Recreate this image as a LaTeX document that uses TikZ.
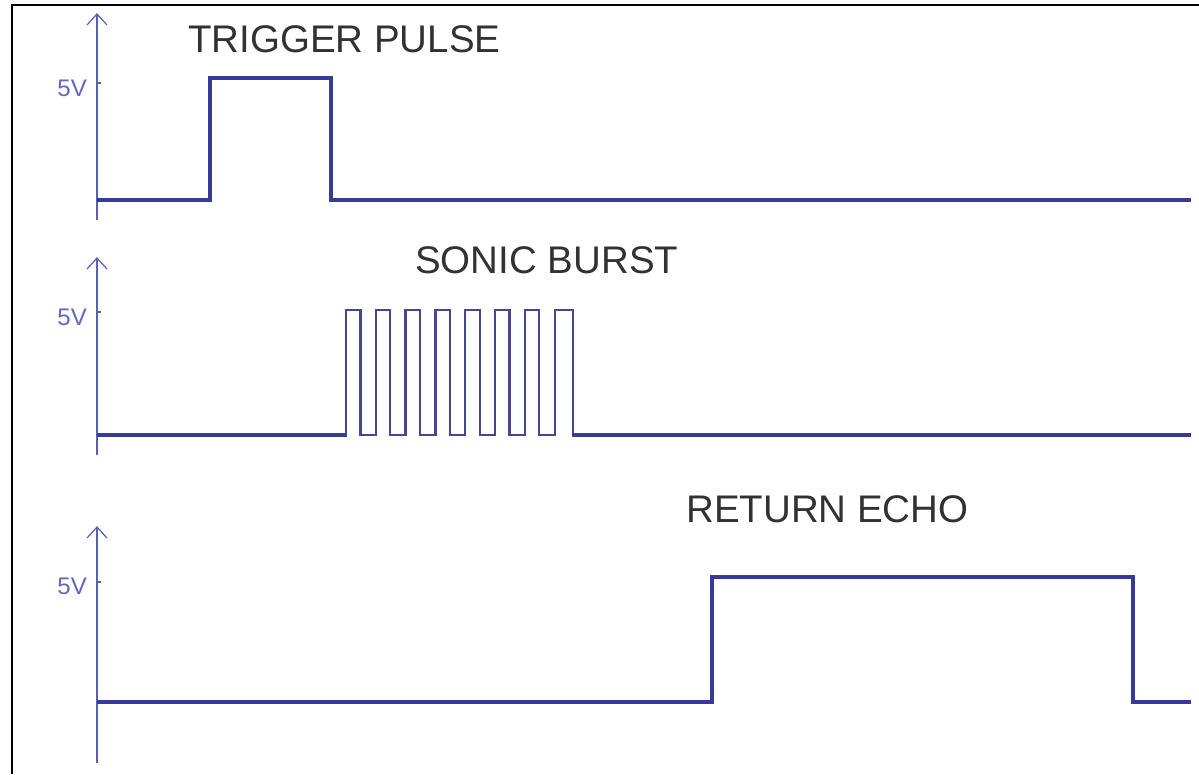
\documentclass[tikz,border=0pt]{standalone}
\usepackage{fontspec}
\setmainfont{Liberation Sans}
\begin{document}
\begin{tikzpicture}[x=1pt,y=-1pt,
  wave/.style={draw=waveblue,line width=3.2pt,line join=miter},
  burst/.style={draw=burstblue,line width=2.3pt,line join=miter},
  axisline/.style={draw=axisblue,line width=2pt},
  arrowarm/.style={draw=axisblue,line width=1.2pt},
  tickmark/.style={draw=axisblue,line width=2.5pt},
  title/.style={text=titlegray,font=\fontsize{38.5}{40}\selectfont,inner sep=0pt,anchor=base west},
  volt/.style={text=voltblue,font=\fontsize{24}{25}\selectfont,inner sep=0pt,anchor=east},
  frameline/.style={draw=black,line width=2pt}]
\definecolor{waveblue}{RGB}{54,58,152}
\definecolor{burstblue}{RGB}{70,72,140}
\definecolor{axisblue}{RGB}{92,96,180}
\definecolor{voltblue}{RGB}{100,104,184}
\definecolor{titlegray}{RGB}{50,50,50}
\useasboundingbox (0,0) rectangle (1199,774);
\fill[white] (0,0) rectangle (1199,774);
% frame
\coordinate (fa) at (12,774);
\coordinate (fb) at (12,5);
\coordinate (fc) at (1199,5);
\draw[frameline] (fa) -- (fb) -- (fc);

% ---------- panel 1: trigger pulse
\coordinate (a1b) at (97,220);
\coordinate (a1t) at (97,14);
\draw[axisline] (a1b) -- (a1t);
\draw[arrowarm] ([shift={(-10,11)}]a1t) -- (a1t) -- ([shift={(10,11)}]a1t);
\draw[tickmark] (97,83) -- (101,83);
\node[volt] (v1) at (87,88) {5V};
\node[title] (t1) at (188,52) {TRIGGER PULSE};
\draw[wave] (97,200) -- (210,200) -- (210,78) -- (331,78) -- (331,200) -- (1191,200);

% ---------- panel 2: sonic burst
\coordinate (a2b) at (97,455);
\coordinate (a2t) at (97,258);
\draw[axisline] (a2b) -- (a2t);
\draw[arrowarm] ([shift={(-10,11)}]a2t) -- (a2t) -- ([shift={(10,11)}]a2t);
\draw[tickmark] (97,312) -- (101,312);
\node[volt] (v2) at (87,317) {5V};
\node[title] (t2) at (415,273) {SONIC BURST};
\draw[wave] (97,435) -- (347,435);
\draw[burst] (346,435)
  \foreach \k in {0,...,6} {
    -- ({346+29.8*\k},435) -- ({346+29.8*\k},310) -- ({360.5+29.8*\k},310) -- ({360.5+29.8*\k},435)
  } -- (555,435) -- (555,310) -- (573,310) -- (573,435);
\draw[wave] (572,435) -- (1191,435);

% ---------- panel 3: return echo
\coordinate (a3b) at (97,763);
\coordinate (a3t) at (97,527);
\draw[axisline] (a3b) -- (a3t);
\draw[arrowarm] ([shift={(-10,11)}]a3t) -- (a3t) -- ([shift={(10,11)}]a3t);
\draw[tickmark] (97,582) -- (101,582);
\node[volt] (v3) at (87,586) {5V};
\node[title] (t3) at (686,522) {RETURN ECHO};
\draw[wave] (97,702) -- (712,702) -- (712,577) -- (1133,577) -- (1133,702) -- (1191,702);
\end{tikzpicture}
\end{document}
